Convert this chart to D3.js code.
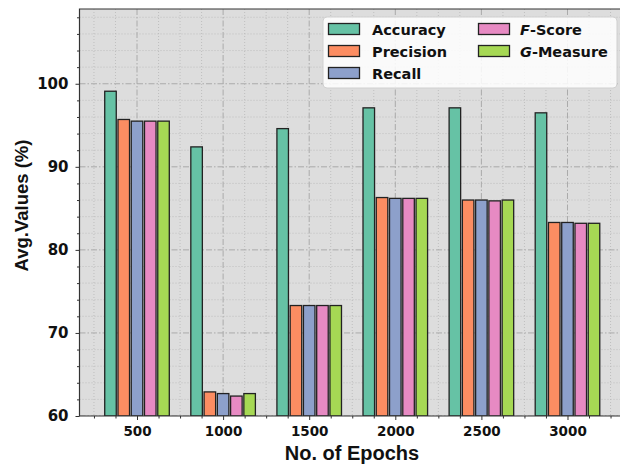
<!DOCTYPE html>
<html>
<head>
<meta charset="utf-8">
<script src="https://cdn.jsdelivr.net/npm/d3@7"></script>
<style>
  html, body { margin: 0; padding: 0; background: #fff; }
  svg { display: block; font-family: "DejaVu Sans", sans-serif; }
</style>
</head>
<body>
<svg id="chart" width="620" height="465"></svg>
<script>
// Epoch settings on the x axis
const epochs = [500, 1000, 1500, 2000, 2500, 3000];

// Metric values (%) per epoch setting
const accuracy  = [99.1, 92.4, 94.6, 97.1, 97.1, 96.5];
const precision = [95.7, 62.9, 73.3, 86.3, 86.0, 83.3];
const recall    = [95.5, 62.7, 73.3, 86.2, 86.0, 83.3];
const fscore    = [95.5, 62.4, 73.3, 86.2, 85.9, 83.2];
const gmeasure  = [95.5, 62.7, 73.3, 86.2, 86.0, 83.2];

const seriesNames = ["Accuracy", "Precision", "Recall", "F-Score", "G-Measure"];
const seriesValues = [accuracy, precision, recall, fscore, gmeasure];
const colors = ["#66c2a5", "#fc8d62", "#8da0cb", "#e78ac3", "#a6d854"];

const yTicks = [60, 70, 80, 90, 100];

const svg = d3.select("#chart");
const plot = { left: 79.5, right: 625, top: 9, bottom: 416 };

const x = d3.scaleLinear().domain([166, 3334]).range([plot.left, plot.right]);
const y = d3.scaleLinear().domain([60, 109]).range([plot.bottom, plot.top]);

// panel background
svg.append("rect")
  .attr("x", plot.left).attr("y", plot.top)
  .attr("width", plot.right - plot.left).attr("height", plot.bottom - plot.top)
  .attr("fill", "#dddddd");

svg.append("clipPath").attr("id", "pclip")
  .append("rect")
  .attr("x", plot.left).attr("y", plot.top)
  .attr("width", plot.right - plot.left).attr("height", plot.bottom - plot.top);

const grid = svg.append("g").attr("clip-path", "url(#pclip)");

// minor grid (dotted)
const xMinor = d3.range(250, 3334, 125).filter(v => v % 500 !== 0);
const yMinor = d3.range(62, 109, 2).filter(v => v % 10 !== 0);
grid.selectAll("line.xminor").data(xMinor).join("line")
  .attr("x1", d => x(d)).attr("x2", d => x(d))
  .attr("y1", plot.top).attr("y2", plot.bottom)
  .attr("stroke", "#b8b8b8").attr("stroke-width", 0.8).attr("stroke-dasharray", "1,2");
grid.selectAll("line.yminor").data(yMinor).join("line")
  .attr("y1", d => y(d)).attr("y2", d => y(d))
  .attr("x1", plot.left).attr("x2", plot.right)
  .attr("stroke", "#b8b8b8").attr("stroke-width", 0.8).attr("stroke-dasharray", "1,2");

// major grid (dash-dot)
const xMajor = d3.range(500, 3334, 500);
grid.selectAll("line.xmajor").data(xMajor).join("line")
  .attr("x1", d => x(d)).attr("x2", d => x(d))
  .attr("y1", plot.top).attr("y2", plot.bottom)
  .attr("stroke", "#aaaaaa").attr("stroke-width", 1).attr("stroke-dasharray", "6,2,1.5,2");
grid.selectAll("line.ymajor").data(d3.range(60, 109, 10)).join("line")
  .attr("y1", d => y(d)).attr("y2", d => y(d))
  .attr("x1", plot.left).attr("x2", plot.right)
  .attr("stroke", "#aaaaaa").attr("stroke-width", 1).attr("stroke-dasharray", "6,2,1.5,2");

// grouped bars
const pitch = 77, barW = 67;
const bars = svg.append("g").attr("clip-path", "url(#pclip)");
seriesValues.forEach((vals, si) => {
  bars.selectAll(null).data(vals.map((v, i) => ({ v, c: epochs[i] }))).join("rect")
    .attr("x", d => x(d.c + (si - 2) * pitch - barW / 2))
    .attr("width", d => x(d.c + barW / 2) - x(d.c - barW / 2))
    .attr("y", d => y(d.v))
    .attr("height", d => y(60) - y(d.v))
    .attr("fill", colors[si])
    .attr("stroke", "#222")
    .attr("stroke-width", 1.3);
});

// axes
const xAxis = d3.axisBottom(x).tickValues(epochs).tickSize(4).tickPadding(6).tickFormat(d3.format("d"));
const gx = svg.append("g").attr("transform", `translate(0,${plot.bottom})`).call(xAxis);
gx.select(".domain").remove();
gx.selectAll("text").attr("font-size", 13.5).attr("font-weight", "bold").attr("fill", "#111")
  .attr("font-family", "DejaVu Sans");
gx.selectAll("line").attr("stroke", "#333");
svg.append("g").attr("transform", `translate(0,${plot.bottom})`)
  .call(d3.axisBottom(x).tickValues(xMinor).tickSize(2.5).tickFormat(""))
  .call(g => g.select(".domain").remove())
  .selectAll("line").attr("stroke", "#333");

const yAxis = d3.axisLeft(y).tickValues(yTicks).tickSize(4).tickPadding(7);
const gy = svg.append("g").attr("transform", `translate(${plot.left},0)`).call(yAxis);
gy.select(".domain").remove();
gy.selectAll("text").attr("font-size", 15).attr("font-weight", "bold").attr("fill", "#111")
  .attr("font-family", "DejaVu Sans");
gy.selectAll("line").attr("stroke", "#333");
svg.append("g").attr("transform", `translate(${plot.left},0)`)
  .call(d3.axisLeft(y).tickValues(yMinor).tickSize(2.5).tickFormat(""))
  .call(g => g.select(".domain").remove())
  .selectAll("line").attr("stroke", "#333");

// frame
svg.append("path")
  .attr("d", `M${plot.right},${plot.top}H${plot.left}V${plot.bottom}H${plot.right}`)
  .attr("fill", "none").attr("stroke", "#333").attr("stroke-width", 1.2);

// axis titles
svg.append("text")
  .attr("x", 352).attr("y", 460)
  .attr("text-anchor", "middle").attr("font-family", "Liberation Sans").attr("font-size", 20)
  .attr("font-weight", "bold").attr("fill", "#111")
  .text("No. of Epochs");
svg.append("text")
  .attr("transform", "translate(27.5,205.5) rotate(-90)")
  .attr("text-anchor", "middle").attr("font-family", "Liberation Sans").attr("font-size", 18.5)
  .attr("font-weight", "bold").attr("fill", "#111")
  .text("Avg.Values (%)");

// legend
const lg = svg.append("g");
lg.append("rect")
  .attr("x", 323).attr("y", 17).attr("width", 294).attr("height", 71).attr("rx", 4)
  .attr("fill", "#ffffff").attr("fill-opacity", 0.85).attr("stroke", "#d0d0d0").attr("stroke-width", 1);
const legendPos = [
  { px: 328.5, tx: 372, cy: 29 },
  { px: 328.5, tx: 372, cy: 51 },
  { px: 328.5, tx: 372, cy: 73 },
  { px: 478.5, tx: 520, cy: 29 },
  { px: 478.5, tx: 520, cy: 51 }
];
seriesNames.forEach((name, i) => {
  const p = legendPos[i];
  lg.append("rect")
    .attr("x", p.px).attr("y", p.cy - 5.5).attr("width", 31).attr("height", 11)
    .attr("fill", colors[i]).attr("stroke", "#222").attr("stroke-width", 1.3);
  const t = lg.append("text")
    .attr("x", p.tx).attr("y", p.cy + 5.5)
    .attr("font-size", 14.5).attr("font-weight", "bold").attr("fill", "#111");
  const dash = name.indexOf("-");
  if (dash > 0) {
    t.append("tspan").attr("font-style", "italic").text(name.slice(0, dash));
    t.append("tspan").text(name.slice(dash));
  } else {
    t.text(name);
  }
});
</script>
</body>
</html>
